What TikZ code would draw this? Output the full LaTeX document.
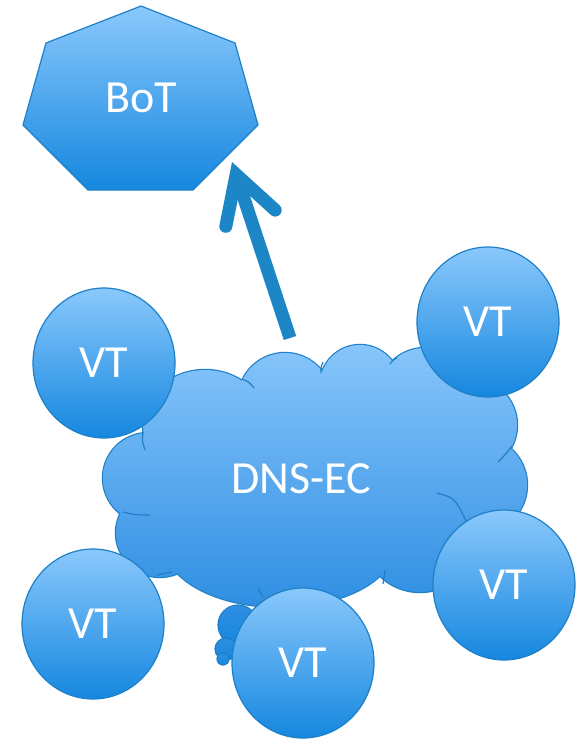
\documentclass[tikz,border=0pt]{standalone}
\usepackage{fontspec}
\setmainfont{Carlito}
\usetikzlibrary{arrows.meta,shapes.geometric}
\definecolor{lightb}{HTML}{8AC8FC}
\definecolor{darkb}{HTML}{1587DF}
\definecolor{cloudtop}{HTML}{87C5FB}
\definecolor{cloudbot}{HTML}{2F8EE2}
\definecolor{edgeb}{HTML}{1E80C6}
\definecolor{arrowb}{HTML}{1C86C7}
\tikzset{
  lbl/.style={text=white, font=\fontsize{46}{50}\selectfont, inner sep=0pt},
  vt/.style={ellipse, minimum width=142pt, minimum height=150pt, inner sep=0pt,
    top color=lightb, bottom color=darkb, draw=edgeb, line width=1.2pt, lbl},
  outl/.style={draw=edgeb, line width=1.2pt},
  hint/.style={draw=edgeb, line width=1.2pt},
  bigarrow/.style={draw=arrowb, line width=13pt,
    -{Straight Barb[length=46pt, width=52pt, line cap=round, line join=miter]}},
}
\begin{document}
\begin{tikzpicture}[x=1pt,y=-1pt]
\useasboundingbox (0,0) rectangle (582,744);
% BoT heptagon
\shade[top color=lightb, bottom color=darkb, outl]
  (141,6) -- (235,43) -- (258,125) -- (193,190) -- (88,190) -- (23,125) -- (46,43) -- cycle;
\node[lbl] (bot) at (141,98) {BoT};
% arrow
\coordinate (astart) at (290,338);
\coordinate (atip) at (232,162);
\draw[bigarrow] (astart) -- (atip);
% cloud
\def\cloudpath{
  (148,478) circle [radius=45]
  (160,533) circle [radius=44]
  (280,545) ellipse [x radius=115, y radius=62]
  (420,540) ellipse [x radius=55, y radius=52]
  (478,485) circle [radius=49]
  (470,425) circle [radius=47]
  (425,395) circle [radius=47]
  (360,385) circle [radius=40]
  (285,400) circle [radius=47]
  (205,425) ellipse [x radius=62, y radius=55]
  (320,470) ellipse [x radius=170, y radius=95]
}
\draw[draw=edgeb, line width=2.4pt] \cloudpath;
\shade[top color=cloudtop, bottom color=cloudbot] \cloudpath;
% hint arcs
\draw[hint] (143,432) .. controls (142,441) .. (145,450);
\draw[hint] (242,379) .. controls (249,382) .. (254,388);
\draw[hint] (321,373) .. controls (321,367) .. (323,362);
\draw[hint] (390,364) .. controls (393,360) .. (397,358);
\draw[hint] (512,446) .. controls (505,455) .. (498,462);
\draw[hint] (437,493) .. controls (455,498) .. (467,523);
\draw[hint] (385,570) .. controls (384,577) .. (383,584);
\draw[hint] (258,588) .. controls (261,592) .. (263,597);
\draw[hint] (172,572) .. controls (164,574) .. (157,575);
\draw[hint] (123,512) .. controls (136,515) .. (150,515);
% bubbles
\shade[top color=cloudbot, bottom color=darkb, outl] (238,625) circle [radius=20];
\shade[top color=cloudbot, bottom color=darkb, outl] (226,649) circle [radius=11];
\shade[top color=cloudbot, bottom color=darkb, outl] (223,659) circle [radius=6];
\node[lbl] (dns) at (301,479) {DNS-EC};
% VT nodes
\node[vt] (vt1) at (104,363) {VT};
\node[vt] (vt2) at (488,322) {VT};
\node[vt] (vt3) at (504,585) {VT};
\node[vt] (vt4) at (93,624) {VT};
\node[vt] (vt5) at (303,663) {VT};
\end{tikzpicture}
\end{document}
